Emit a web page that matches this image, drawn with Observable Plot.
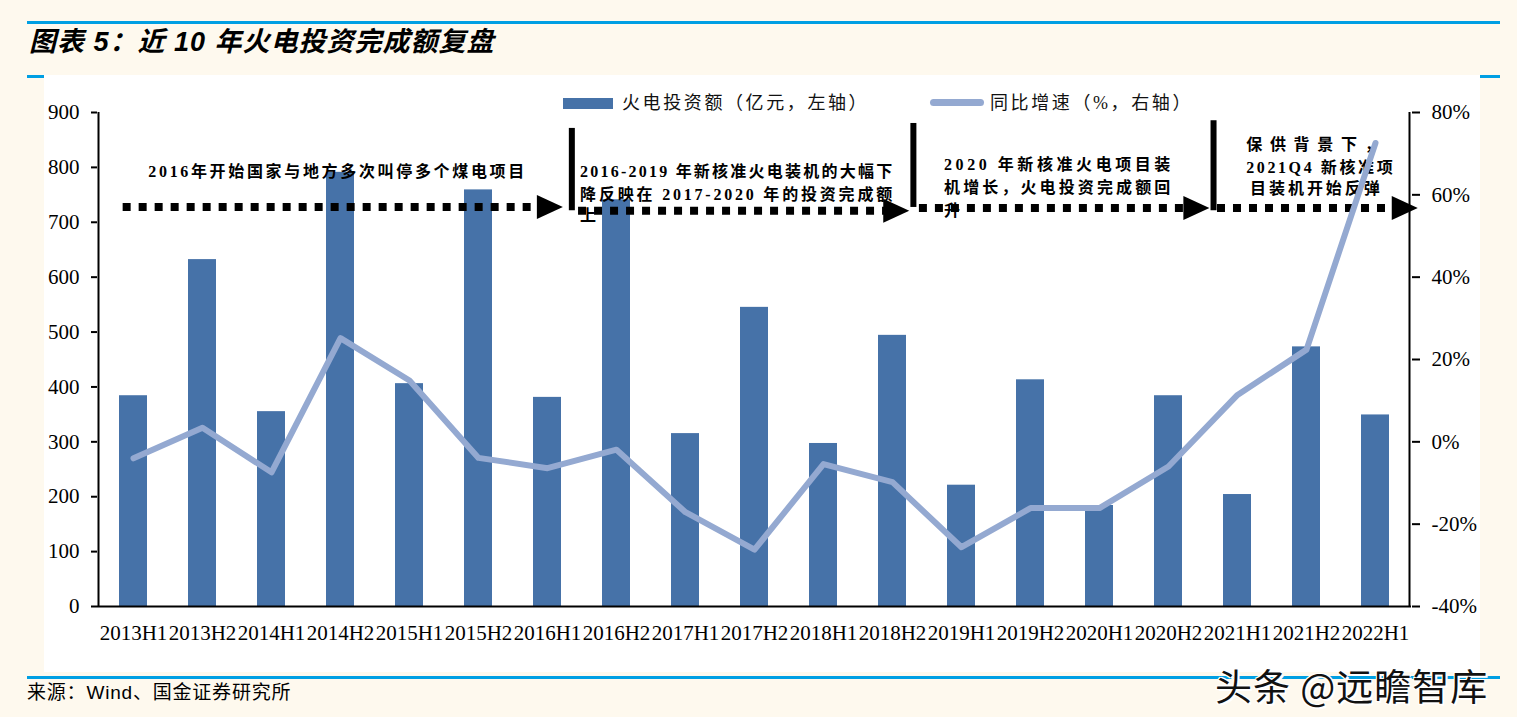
<!DOCTYPE html>
<html>
<head>
<meta charset="utf-8">
<script src="https://cdn.jsdelivr.net/npm/d3@7"></script>
<script src="https://cdn.jsdelivr.net/npm/@observablehq/plot@0.6"></script>
<style>
  body { margin: 0; background: #FEF9EE; }
  #page { position: relative; width: 1517px; height: 717px; background: #FEF9EE; overflow: hidden; }
  .hl { position: absolute; left: 27px; width: 1473px; height: 3px; background: #009FE3; }
  #panel { position: absolute; left: 44px; top: 75px; width: 1436px; height: 597px; background: #fff; }
  #chart { position: absolute; left: 0; top: 95px; }
  #title { position: absolute; left: 29px; top: 27px; line-height: 30px; font-size: 27px; font-weight: bold; font-style: italic;
           font-family: "Liberation Sans", "Noto Sans CJK SC", sans-serif; color: #000; letter-spacing: 1px; white-space: nowrap; }
  .leg { position: absolute; font-family: "Liberation Serif", "Noto Sans CJK SC", serif; font-size: 18px; line-height: 22px; top: 92px; color: #111; letter-spacing: 2.6px; white-space: nowrap; }
  .sw { position: absolute; }
  #caption { position: absolute; left: 27px; top: 681px; font-size: 19px; line-height: 24px; font-family: "Liberation Sans", "Noto Sans CJK SC", sans-serif; color: #000; letter-spacing: 0.8px; white-space: nowrap; }
  #wm { position: absolute; left: 1215px; top: 663px; font-size: 37px; line-height: 44px; font-family: "Noto Sans CJK SC", sans-serif; color: #111; letter-spacing: 1px;
        text-shadow: 2px 2px 0 #fff, -1px -1px 0 #fff, 1px -1px 0 #fff, -1px 1px 0 #fff; white-space: nowrap; }
</style>
</head>
<body>
<div id="page">
  <div class="hl" style="top:21px"></div>
  <div id="title">图表 5：近 10 年火电投资完成额复盘</div>
  <div class="hl" style="top:75px"></div>
  <div id="panel"></div>
  <div id="chart"></div>
  <div id="legend"></div>
  <div class="hl" style="top:676px"></div>
  <div id="caption">来源：Wind、国金证券研究所</div>
  <div id="wm">头条 @远瞻智库</div>
</div>
<script>
// ---------------- data ----------------
const categories = ["2013H1","2013H2","2014H1","2014H2","2015H1","2015H2","2016H1","2016H2","2017H1","2017H2",
                    "2018H1","2018H2","2019H1","2019H2","2020H1","2020H2","2021H1","2021H2","2022H1"];
const investment = [384, 632, 355, 791, 406, 759, 381, 741, 315, 545, 297, 494, 221, 413, 184, 384, 204, 473, 349];
const growth = [-4.0, 3.4, -7.4, 25.2, 14.9, -3.9, -6.4, -1.9, -17.1, -26.2, -5.4, -9.8, -25.6, -16.1, -16.1, -6.0, 11.4, 22.4, 72.6];
const leftTicks = [0, 100, 200, 300, 400, 500, 600, 700, 800, 900];
const rightTicks = [-40, -20, 0, 20, 40, 60, 80];
const seriesNames = ["火电投资额（亿元，左轴）", "同比增速（%，右轴）"];
const notes = [
  ["2016年开始国家与地方多次叫停多个煤电项目"],
  ["2016-2019 年新核准火电装机的大幅下", "降反映在 2017-2020 年的投资完成额", "上"],
  ["2020 年新核准火电项目装", "机增长，火电投资完成额回", "升"],
  ["保供背景下，", "2021Q4 新核准项", "目装机开始反弹"]
];

// ---------------- layout / style (annotation placement in category-index / left-axis units) ----------------
const barColor = "#4672A8";
const lineColor = "#94A9D1";
const arrows = [ // x from, x tip (category index), y (left-axis value)
  {x1: -0.15, x2: 6.23, y: 727},
  {x1: 6.45, x2: 11.25, y: 720},
  {x1: 11.39, x2: 15.6, y: 725},
  {x1: 15.71, x2: 18.62, y: 725}
];
const dividers = [ {x: 6.36, y1: 871, y2: 721}, {x: 11.31, y1: 880, y2: 727}, {x: 15.66, y1: 885, y2: 721} ];
const noteLayout = [
  [{x: 0.2225, y: 791, len: 5.448}],
  [{x: 6.48, y: 791, len: 4.523}, {x: 6.48, y: 749, len: 4.523}, {x: 6.48, y: 712}],
  [{x: 11.754, y: 805, len: 3.28}, {x: 11.754, y: 763, len: 3.28}, {x: 11.754, y: 720}],
  [{x: 16.133, y: 840, len: 1.951}, {x: 16.133, y: 798, len: 2.124}, {x: 16.19, y: 760, len: 1.879}]
];

const toLeft = p => (p + 40) * 900 / 120;
const table = categories.map((c, i) => ({period: c, inv: investment[i], g: growth[i]}));

const plot = Plot.plot({
  width: 1517, height: 577,
  marginLeft: 97, marginRight: 106, marginTop: 17, marginBottom: 66,
  style: {background: "transparent", fontFamily: "'Liberation Serif', 'Noto Sans CJK SC', serif", fontSize: "21px", color: "#000", overflow: "visible"},
  x: {domain: categories, paddingInner: 0.6, paddingOuter: 0.3, label: null},
  y: {domain: [0, 900], label: null},
  marks: [
    Plot.barY(table, {x: "period", y: "inv", fill: barColor}),
    Plot.ruleY([0], {stroke: "#000", strokeWidth: 2}),
    Plot.axisX({tickSize: 0, tickPadding: 19, fontSize: 21, label: null}),
    Plot.axisY(leftTicks, {anchor: "left", tickSize: 6, tickPadding: 12, fontSize: 21, label: null, strokeWidth: 2}),
    Plot.axisY(rightTicks.map(toLeft), {anchor: "right", tickSize: 8, tickPadding: 12, fontSize: 21, label: null, strokeWidth: 2,
      tickFormat: v => Math.round(v * 120 / 900 - 40) + "%"}),
    Plot.lineY(table, {x: "period", y: d => toLeft(d.g), stroke: lineColor, strokeWidth: 6, strokeLinejoin: "round", strokeLinecap: "round"})
  ]
});
document.getElementById("chart").appendChild(plot);

// scales
const xs = plot.scale("x"), ys = plot.scale("y");
const x0 = xs.apply(categories[0]) + xs.bandwidth / 2;
const X = i => x0 + i * xs.step;
const Y = v => ys.apply(v);
const svg = d3.select(plot);

// axis lines
const [yb, yt] = [Y(0), Y(900)];
const xl = X(-0.5), xr = X(categories.length - 0.5);
const axes = svg.append("g");
axes.append("line").attr("x1", xl).attr("x2", xl).attr("y1", yt).attr("y2", yb + 1).attr("stroke", "#000").attr("stroke-width", 2);
axes.append("line").attr("x1", xr).attr("x2", xr).attr("y1", yt).attr("y2", yb + 1).attr("stroke", "#000").attr("stroke-width", 2);

// annotations inserted before the line
const lineNode = plot.querySelector('g[aria-label="line"]');
const ann = document.createElementNS("http://www.w3.org/2000/svg", "g");
plot.insertBefore(ann, lineNode);
const A = d3.select(ann).attr("text-anchor", "start");
arrows.forEach(a => {
  const xa = X(a.x1), xt = X(a.x2), y = Y(a.y);
  A.append("line").attr("x1", xa).attr("x2", xt - 24).attr("y1", y).attr("y2", y)
    .attr("stroke", "#000").attr("stroke-width", 8).attr("stroke-dasharray", "8 8");
  A.append("path").attr("d", `M${xt - 26},${y - 12}L${xt},${y}L${xt - 26},${y + 12}Z`).attr("fill", "#000");
});
dividers.forEach(d => {
  A.append("rect").attr("x", X(d.x) - 3).attr("width", 6).attr("y", Y(d.y1)).attr("height", Y(d.y2) - Y(d.y1)).attr("fill", "#000");
});
notes.forEach((lines, k) => {
  lines.forEach((t, j) => {
    const L = noteLayout[k][j];
    const txt = A.append("text").attr("x", X(L.x)).attr("y", Y(L.y)).attr("dominant-baseline", "central")
      .attr("text-anchor", "start")
      .attr("font-family", "'Liberation Serif', 'Noto Sans CJK SC', serif").attr("font-weight", "bold")
      .attr("font-size", 16).attr("fill", "#000").text(t);
    if (L.len) txt.attr("textLength", L.len * xs.step).attr("lengthAdjust", "spacing");
  });
});

// legend
const leg = document.getElementById("legend");
leg.innerHTML = `
  <div class="sw" style="left:563px;top:98px;width:50px;height:11px;background:${barColor}"></div>
  <div class="leg" style="left:622px">${seriesNames[0]}</div>
  <div class="sw" style="left:930px;top:99px;width:54px;height:7px;border-radius:4px;background:${lineColor}"></div>
  <div class="leg" style="left:990px">${seriesNames[1]}</div>`;
</script>
</body>
</html>
